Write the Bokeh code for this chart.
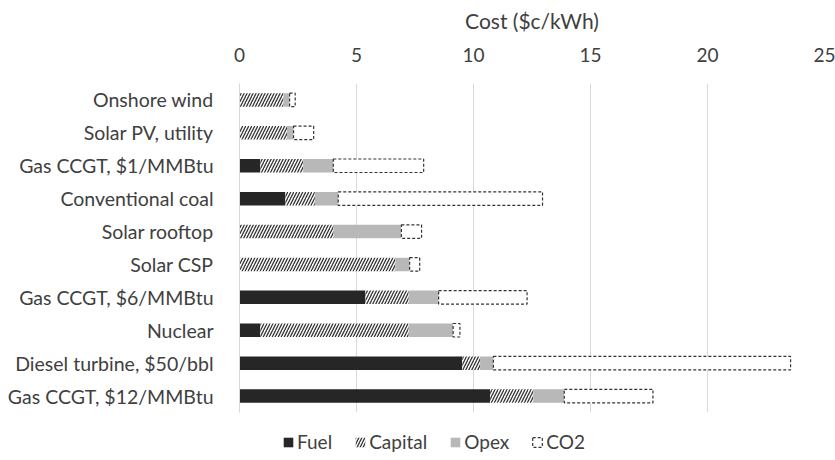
import numpy as np
from bokeh.plotting import figure
from bokeh.layouts import column
from bokeh.models import Range1d, FactorRange, FixedTicker, Legend, LegendItem
from bokeh.transform import stack
from bokeh.models import ColumnDataSource
from bokeh.embed import file_html
from bokeh.resources import INLINE

categories = ["Onshore wind", "Solar PV, utility", "Gas CCGT, $1/MMBtu", "Conventional coal",
              "Solar rooftop", "Solar CSP", "Gas CCGT, $6/MMBtu", "Nuclear",
              "Diesel turbine, $50/bbl", "Gas CCGT, $12/MMBtu"]
fuel    = [0.00, 0.00, 0.89, 1.96, 0.00, 0.00, 5.38, 0.89, 9.52, 10.71]
capital = [1.88, 2.03, 1.83, 1.26, 4.02, 6.66, 1.85, 6.34, 0.76, 1.85]
opex    = [0.26, 0.28, 1.29, 1.00, 2.90, 0.61, 1.28, 1.90, 0.57, 1.32]
co2     = [0.24, 0.86, 3.86, 8.73, 0.86, 0.43, 3.78, 0.29, 12.70, 3.79]
x_ticks = [0, 5, 10, 15, 20, 25]
series_names = ["Fuel", "Capital", "Opex", "CO2"]

FONT = "Lato"
TXT = "#404040"

src = ColumnDataSource(dict(cat=categories, Fuel=fuel, Capital=capital, Opex=opex, CO2=co2))

p = figure(width=835, height=424, output_backend="svg", toolbar_location=None,
           y_range=FactorRange(*categories[::-1]), x_range=Range1d(0, 25),
           x_axis_location="above", min_border_left=239, min_border_right=11,
           min_border_top=83, min_border_bottom=12)
p.outline_line_color = None
p.ygrid.grid_line_color = None
p.xgrid.grid_line_color = "#d9d9d9"
p.xgrid.ticker = FixedTicker(ticks=x_ticks)

xa = p.xaxis[0]
xa.ticker = FixedTicker(ticks=x_ticks)
xa.axis_line_color = None
xa.major_tick_line_color = None
xa.minor_tick_line_color = None
xa.major_label_standoff = 16
xa.major_label_text_font = FONT
xa.major_label_text_font_size = "19px"
xa.major_label_text_color = TXT
xa.axis_label = "Cost ($c/kWh)"
xa.axis_label_text_font = FONT
xa.axis_label_text_font_size = "21px"
xa.axis_label_text_font_style = "normal"
xa.axis_label_text_color = TXT
xa.axis_label_standoff = 12

ya = p.yaxis[0]
ya.axis_line_color = "#d9d9d9"
ya.major_tick_line_color = None
ya.minor_tick_line_color = None
ya.major_label_standoff = 20
ya.major_label_text_font = FONT
ya.major_label_text_font_size = "19.5px"
ya.major_label_text_color = TXT

H = 0.41
styles = {
    "Fuel": dict(fill_color="#262626", line_color=None),
    "Capital": dict(fill_color="white", line_color=None, hatch_pattern="/", hatch_color="#333333",
                    hatch_scale=6, hatch_weight=1.3),
    "Opex": dict(fill_color="#b8b8b8", line_color=None),
    "CO2": dict(fill_color="white", line_color="#333333", line_dash="3 2", line_width=1.2),
}
for i, name in enumerate(series_names):
    prev = series_names[:i]
    p.hbar(y="cat", height=H, left=stack(*prev), right=stack(*prev, name), source=src,
           **styles[name])

# legend strip below the chart (its swatch glyphs have no drawable coordinates)
lf = figure(width=835, height=36, output_backend="svg", toolbar_location=None,
            x_range=Range1d(0, 1), y_range=Range1d(0, 1), x_axis_type=None, y_axis_type=None,
            min_border_left=239, min_border_right=11, min_border_top=0, min_border_bottom=0)
lf.outline_line_color = None
lf.xgrid.visible = False
lf.ygrid.visible = False
items = []
for name in series_names:
    nan = np.array([np.nan])
    r = lf.hbar(y=nan, height=0.5, left=nan, right=nan, **styles[name])
    items.append(LegendItem(label=name, renderers=[r]))
legend = Legend(items=items, orientation="horizontal", location=(43, 7),
                border_line_color=None, background_fill_alpha=0,
                label_text_font=FONT, label_text_font_size="19px", label_text_color=TXT,
                glyph_width=12, glyph_height=12, label_standoff=3, spacing=22, padding=0, margin=0)
lf.add_layout(legend, "center")

open("out.html", "w").write(file_html(column(p, lf, spacing=0), INLINE))
